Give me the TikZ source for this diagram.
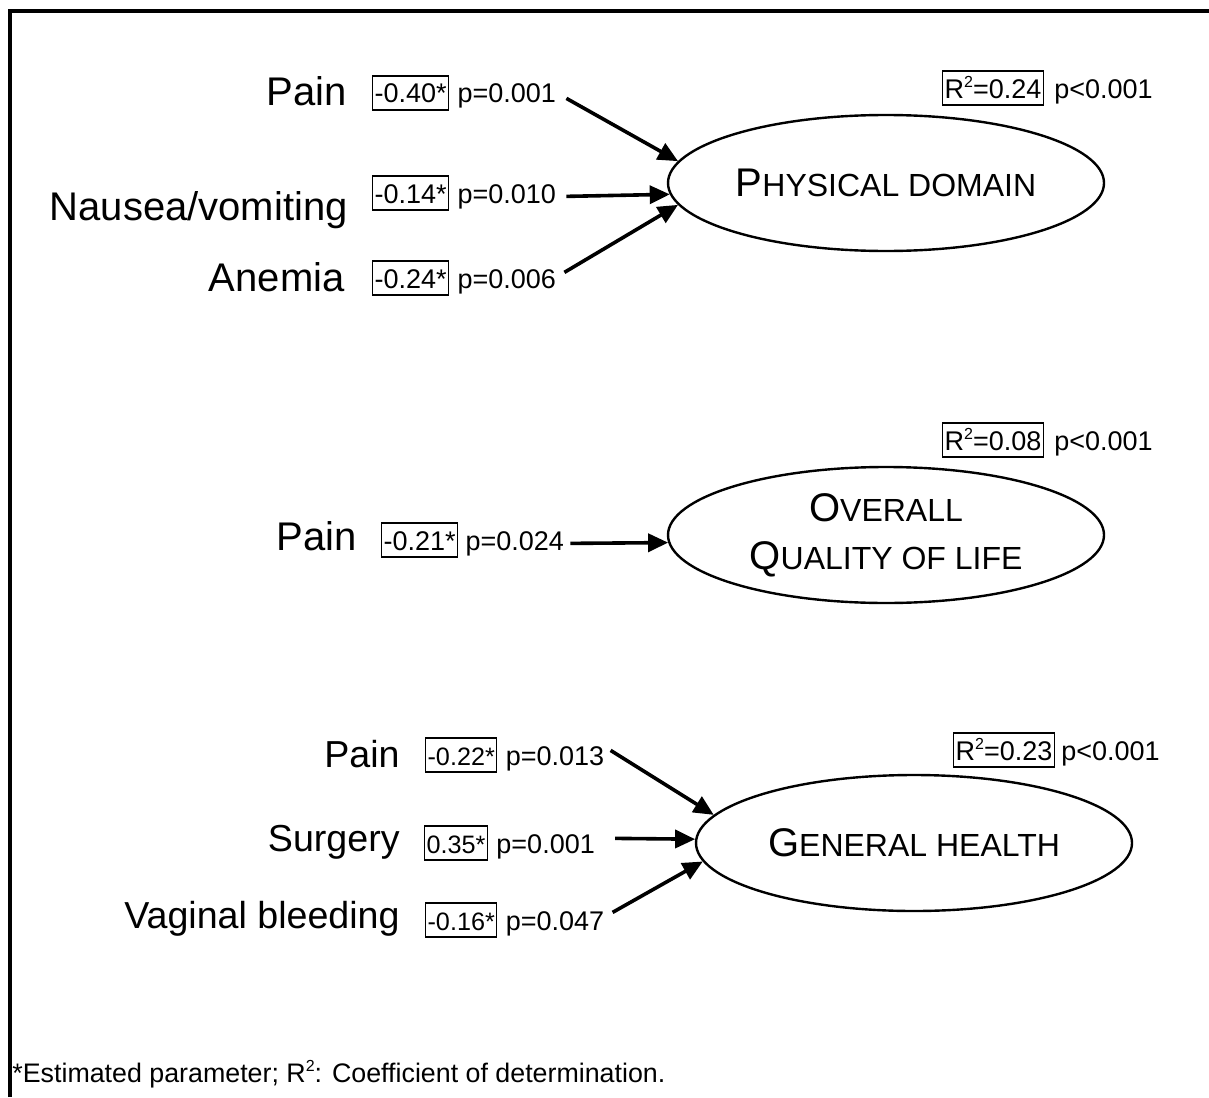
\documentclass[tikz,border=0pt]{standalone}
\usepackage{fontspec}
\setmainfont{Liberation Sans}
\usepackage{tikz}
\usetikzlibrary{arrows.meta,positioning,shapes.geometric}
\newcommand{\capsc}[2]{{\fontsize{20}{24}\selectfont #1}{\fontsize{16}{24}\selectfont #2}}
\newcommand{\rsq}{R\raisebox{5.5pt}{\fontsize{8}{8}\selectfont 2}}
\tikzset{
  lbl/.style={inner sep=0pt, anchor=base east, font=\fontsize{20}{22}\selectfont},
  lblsm/.style={lbl, font=\fontsize{18.8}{21}\selectfont},
  coef/.style={draw, line width=0.6pt, anchor=base west, inner xsep=1pt, inner ysep=3.5pt, text height=10pt, text depth=0pt, font=\fontsize{13.5}{15}\selectfont},
  coefsm/.style={coef, font=\fontsize{12.6}{15}\selectfont},
  pval/.style={inner sep=0pt, font=\fontsize{13.5}{15}\selectfont},
  outc/.style={draw, ellipse, line width=1.2pt, minimum width=218pt, minimum height=68pt, inner sep=0pt, align=center, font=\fontsize{16}{24}\selectfont},
  arr/.style={-{Triangle[length=10pt,width=9pt]}, line width=1.8pt},
  foot/.style={inner sep=0pt, anchor=base west, font=\fontsize{13.4}{15}\selectfont}}

\begin{document}
\begin{tikzpicture}[x=0.5pt, y=-0.5pt]
  \useasboundingbox (0,0) rectangle (1209,1097);
  \draw[line width=2pt] (10,1097) -- (10,11) -- (1209,11);
  % physical domain
  \node[outc] (phys) at (886,183) {\capsc{P}{HYSICAL DOMAIN}};
  \node[coef] (r1) at (942,98) {\rsq=0.24}; \node[pval, base right=5pt of r1] (rp1) {p<0.001};
  \node[coef] (c1) at (372,103) {-0.40*}; \node[pval, base right=4pt of c1] (p1) {p=0.001};
  \node[coef] (c2) at (372,203) {-0.14*}; \node[pval, base right=4pt of c2] (p2) {p=0.010};
  \node[coef] (c3) at (372,288) {-0.24*}; \node[pval, base right=4pt of c3] (p3) {p=0.006};
  \node[lbl] (l1) at (347,105) {Pain};
  \node[lbl] (l2) at (348,220) {Nausea/vomiting};
  \node[lbl] (l3) at (345,291) {Anemia};
  \draw[arr] ([shift={(10,2)}]p1.east) -- (phys.174);
  \draw[arr] ([shift={(10,0)}]p2.east) -- (phys.183);
  \draw[arr] ([shift={(8,-9)}]p3.east) -- (phys.186);
  % overall quality of life
  \node[outc] (qol) at (886,535) {\capsc{O}{VERALL}\\\capsc{Q}{UALITY OF LIFE}};
  \node[coef] (r2) at (942,450) {\rsq=0.08}; \node[pval, base right=5pt of r2] (rp2) {p<0.001};
  \node[coef] (c4) at (381,550) {-0.21*}; \node[pval, base right=3.5pt of c4] (p4) {p=0.024};
  \node[lbl] (l4) at (357,550) {Pain};
  \draw[arr] ([shift={(6,0)}]p4.east) -- (qol.182);
  % general health
  \node[outc] (gen) at (914,843) {\capsc{G}{ENERAL HEALTH}};
  \node[coef] (r3) at (953,760) {\rsq=0.23}; \node[pval, base right=3pt of r3] (rp3) {p<0.001};
  \node[coefsm] (c5) at (425,765) {-0.22*}; \node[pval, base right=4pt of c5] (p5) {p=0.013};
  \node[coefsm] (c6) at (424,853) {0.35*}; \node[pval, base right=4pt of c6] (p6) {p=0.001};
  \node[coefsm] (c7) at (425,930) {-0.16*}; \node[pval, base right=4pt of c7] (p7) {p=0.047};
  \node[lblsm] (l5) at (400,767) {Pain};
  \node[lblsm] (l6) at (400,851) {Surgery};
  \node[lblsm] (l7) at (400,928) {Vaginal bleeding};
  \draw[arr] ([shift={(6,-8)}]p5.east) -- (gen.172);
  \draw[arr] ([shift={(20,-8)}]p6.east) -- (gen.179);
  \draw[arr] ([shift={(8,-11)}]p7.east) -- (gen.185);
  \node[foot] (note) at (12,1082) {*Estimated parameter; \rsq: Coefficient of determination.};
\end{tikzpicture}
\end{document}
